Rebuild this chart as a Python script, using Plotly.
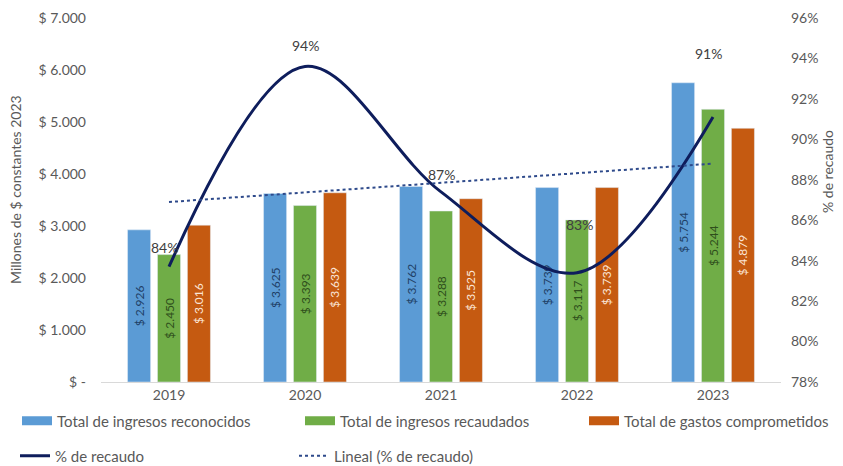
import plotly.graph_objects as go

years = ["2019", "2020", "2021", "2022", "2023"]
reconocidos = [2926, 3625, 3762, 3739, 5754]
recaudados = [2450, 3393, 3288, 3117, 5244]
comprometidos = [3016, 3639, 3525, 3739, 4879]
pct_recaudo = [83.7, 93.6, 87.4, 83.4, 91.1]
pct_labels = ["84%", "94%", "87%", "83%", "91%"]
trend_years = ["2019", "2023"]
trend_values = [86.9, 88.8]
left_tickvals = [0, 1000, 2000, 3000, 4000, 5000, 6000, 7000]
left_ticktext = ["$ -", "$ 1.000", "$ 2.000", "$ 3.000", "$ 4.000", "$ 5.000", "$ 6.000", "$ 7.000"]

FONT = "Lato"
GRAY = "#595959"
OFF = 8                      # page body margin of the browser
W, H = 843 - OFF, 466 - OFF  # figure size that fits the window
ML, MT, MR, MB = 101 - OFF, 18 - OFF, 62, 84
PW, PH = W - ML - MR, H - MT - MB

def fmt(v):
    return "$ " + f"{v:,}".replace(",", ".")

fig = go.Figure()

bar_specs = [
    ("Total de ingresos reconocidos", reconocidos, "#5B9BD5", "#1F3F66"),
    ("Total de ingresos recaudados", recaudados, "#70AD47", "#2F4F1C"),
    ("Total de gastos comprometidos", comprometidos, "#C55A11", "#FBE5D6"),
]
for name, vals, col, tcol in bar_specs:
    fig.add_trace(go.Bar(
        x=years, y=vals, name=name, marker_color=col,
        text=[fmt(v) for v in vals], textposition="inside", textangle=-90,
        insidetextanchor="middle", textfont=dict(family=FONT, size=12, color=tcol),
        showlegend=False, yaxis="y", hoverinfo="x+y",
    ))

# legend entries (own legend per entry, wide rectangular swatch for bars)
legend_ids = ["legend", "legend2", "legend3", "legend4", "legend5"]
for (name, vals, col, tcol), lid in zip(bar_specs, legend_ids[:3]):
    fig.add_trace(go.Scatter(
        x=years, y=[None] * len(years), mode="lines", name=name,
        line=dict(color=col, width=9), yaxis="y", showlegend=True, legend=lid,
        hoverinfo="skip",
    ))

fig.add_trace(go.Scatter(
    x=years, y=pct_recaudo, name="% de recaudo", mode="lines",
    line=dict(color="#0E1D5C", width=3, shape="spline", smoothing=1.0),
    yaxis="y2", legend="legend4",
))
fig.add_trace(go.Scatter(
    x=trend_years, y=trend_values, name="Lineal (% de recaudo)", mode="lines",
    line=dict(color="#2E4A8B", width=2, dash="dot"),
    yaxis="y2", legend="legend5",
))

label_shifts = [(-5, 19), (0, 21), (0, 17), (2, 48), (-5, 64)]
for i, (v, lab, (dx, dy)) in enumerate(zip(pct_recaudo, pct_labels, label_shifts)):
    fig.add_annotation(x=i, y=v, xref="x", yref="y2", text=lab, showarrow=False,
                       xshift=dx, yshift=dy, font=dict(family=FONT, size=14, color="#404040"))

# axis titles (positions given in window pixels)
fig.add_annotation(text="Millones de $ constantes 2023", textangle=-90, showarrow=False,
                   xref="paper", yref="paper", x=(15 - 101) / PW, y=(382 - 190) / PH,
                   xanchor="center", yanchor="middle", font=dict(family=FONT, size=14, color=GRAY))
fig.add_annotation(text="% de recaudo", textangle=-90, showarrow=False,
                   xref="paper", yref="paper", x=(827 - 101) / PW, y=(382 - 172) / PH,
                   xanchor="center", yanchor="middle", font=dict(family=FONT, size=14, color=GRAY))

legend_pos = [(9, 421), (292, 421), (576, 421), (7, 456), (286, 456)]
for lid, (px, py) in zip(legend_ids, legend_pos):
    fig.update_layout({lid: dict(orientation="h", xref="container", yref="container",
                                 x=px / W, y=1 - (py - OFF) / H, xanchor="left", yanchor="middle",
                                 itemwidth=30,
                                 font=dict(family=FONT, size=15, color=GRAY),
                                 bgcolor="rgba(0,0,0,0)")})

fig.update_layout(
    width=W, height=H,
    margin=dict(l=ML, r=MR, t=MT, b=MB, autoexpand=False),
    paper_bgcolor="white", plot_bgcolor="white",
    font=dict(family=FONT, size=14, color=GRAY),
    barmode="group", bargap=0.34, bargroupgap=0.23,
    xaxis=dict(type="category", categoryorder="array", categoryarray=years, range=[-0.5, 4.5],
               showgrid=False, showline=True, linecolor="#D9D9D9",
               linewidth=1, ticks="", tickfont=dict(size=14, color=GRAY)),
    yaxis=dict(range=[0, 7000], tickvals=left_tickvals, ticktext=left_ticktext,
               showgrid=False, zeroline=False, ticks="", automargin=False, ticklabelstandoff=14,
               tickfont=dict(size=14, color=GRAY)),
    yaxis2=dict(range=[78, 96], dtick=2, ticksuffix="%", overlaying="y", side="right",
                showgrid=False, zeroline=False, ticks="", automargin=False, ticklabelstandoff=9,
                tickfont=dict(size=14, color=GRAY)),
)

fig.write_html("out.html")
